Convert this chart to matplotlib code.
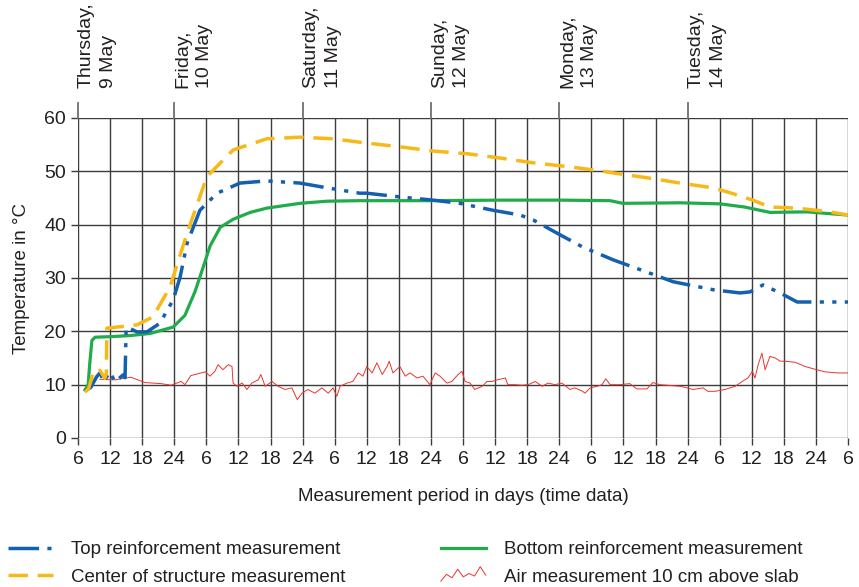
import matplotlib
matplotlib.use("Agg")
import matplotlib.pyplot as plt
import matplotlib.transforms as mtransforms
from matplotlib.lines import Line2D
from matplotlib.legend_handler import HandlerBase
import numpy as np

# hours counted from Thursday 06:00
top_h = [1.3, 2.4, 3.5, 4.2, 4.7, 6.0, 6.9, 8.4, 8.8, 9.0, 9.2, 11.0, 12.9, 15.3, 17.8,
         19.1, 20.4, 22.8, 26.0, 30.3, 35.3, 41.5, 46.6, 52.7, 54.0, 60.2, 66.4, 71.4,
         77.6, 82.7, 85.1, 89.6, 94.4, 100.1, 106.4, 111.3, 118.8, 123.8, 125.7, 128.1,
         131.3, 134.5, 140.6, 144.0]
top_t = [8.8, 9.5, 11.5, 12.3, 10.5, 12.4, 10.5, 11.8, 11.3, 20.6, 20.8, 19.9, 19.9, 21.5,
         25.9, 30.2, 36.5, 42.7, 45.9, 47.8, 48.2, 47.8, 46.9, 45.9, 45.9, 45.2, 44.6, 44.0,
         42.7, 41.8, 40.9, 38.4, 35.8, 33.4, 31.1, 29.3, 27.8, 27.2, 27.4, 28.7,
         27.2, 25.5, 25.5, 25.5]

center_h = [1.3, 2.0, 2.8, 3.5, 4.1, 5.0, 5.3, 5.4, 11.0, 14.0, 17.2, 20.4, 24.1, 29.0,
            35.3, 41.5, 47.7, 54.0, 60.2, 66.4, 72.8, 78.9, 85.1, 91.5, 97.6, 100.1, 106.4,
            112.6, 118.8, 121.9, 126.2, 129.4, 134.5, 140.6, 144.0]
center_t = [8.6, 9.3, 12.2, 12.0, 12.7, 11.2, 12.0, 20.6, 21.2, 22.7, 28.3, 38.4, 49.0, 54.0,
            56.1, 56.4, 56.1, 55.3, 54.6, 53.8, 53.3, 52.5, 51.6, 50.9, 50.1, 49.7, 48.8,
            47.8, 46.9, 46.0, 44.6, 43.3, 43.1, 42.4, 41.8]

bottom_h = [1.3, 1.9, 2.2, 2.6, 3.2, 6.0, 9.7, 13.5, 15.3, 17.8, 20.0, 21.9, 23.4, 24.7,
            26.6, 29.0, 32.2, 35.3, 41.5, 46.6, 52.7, 65.8, 78.9, 90.1, 99.5, 101.9, 112.6,
            120.1, 124.7, 129.4, 136.3, 144.0]
bottom_t = [9.0, 10.0, 14.0, 18.3, 18.9, 19.0, 19.2, 19.6, 20.1, 20.8, 23.0, 27.5, 32.0, 36.0,
            39.5, 41.0, 42.3, 43.1, 44.0, 44.4, 44.5, 44.5, 44.6, 44.6, 44.5, 44.0, 44.1,
            43.9, 43.3, 42.3, 42.4, 41.8]

air_h = [4.1, 6.9, 9.9, 12.5, 15.5, 17.4, 19.3, 20.0, 21.1, 23.8, 24.7, 25.6, 26.2, 27.1,
         28.1, 28.8, 29.0, 29.7, 30.7, 31.6, 32.5, 33.7, 34.2, 35.0, 36.3, 37.4, 38.7, 40.0,
         41.0, 41.9, 43.0, 44.3, 45.6, 46.8, 47.7, 48.4, 49.0, 50.3, 51.4, 52.4, 53.3, 54.0,
         55.0, 55.9, 56.9, 57.8, 58.2, 58.9, 60.2, 61.2, 62.1, 63.4, 64.5, 65.8, 66.8, 67.7,
         69.0, 69.9, 71.1, 71.8, 72.4, 73.3, 74.2, 75.6, 76.5, 77.4, 78.4, 79.9, 80.4, 81.7,
         83.0, 84.2, 85.5, 86.8, 87.9, 89.2, 90.5, 92.0, 92.9, 94.4, 94.8, 95.8, 97.1, 98.0,
         98.7, 99.5, 101.4, 103.2, 104.5, 106.4, 107.5, 108.8, 111.3, 112.6, 113.9, 115.0,
         116.9, 117.8, 119.1, 121.0, 122.9, 124.2, 125.3, 126.1, 126.6, 127.2, 127.9, 128.5,
         129.4, 130.4, 131.3, 132.2, 134.1, 136.0, 137.8, 139.7, 142.1, 144.0]
air_t = [11.0, 10.9, 11.4, 10.4, 10.2, 9.9, 10.6, 10.0, 11.7, 12.4, 11.6, 12.5, 13.75, 12.8,
         13.75, 13.4, 10.3, 9.7, 10.3, 9.1, 10.3, 10.9, 11.9, 9.7, 10.6, 9.7, 9.1, 9.4,
         7.2, 8.4, 9.1, 8.4, 9.4, 8.4, 9.4, 7.8, 9.7, 10.3, 10.6, 12.2, 11.6, 13.4,
         12.2, 14.1, 11.9, 13.4, 14.4, 12.2, 13.4, 11.6, 12.2, 11.25, 11.6, 10.0, 12.2, 11.6,
         10.3, 10.6, 11.9, 12.5, 10.6, 10.3, 9.1, 9.7, 10.6, 10.6, 10.9, 11.25, 10.0, 10.0,
         9.9, 10.0, 10.6, 9.7, 10.3, 10.0, 10.3, 9.1, 9.4, 8.75, 8.4, 9.4, 9.7, 10.0,
         11.1, 10.0, 10.0, 10.2, 9.2, 9.2, 10.4, 10.0, 9.8, 9.7, 9.4, 9.1,
         9.4, 8.75, 8.75, 9.1, 9.7, 10.6, 11.25, 12.5, 11.25, 13.75, 15.9, 12.8,
         15.3, 15.0, 14.4, 14.4, 14.2, 13.4, 12.9, 12.4, 12.2, 12.2]

tick_hours = list(range(0, 145, 6))
tick_labels = ['6', '12', '18', '24'] * 6 + ['6']
day_hours = [0, 18, 42, 66, 90, 114]
day_names = ['Thursday,\n9 May', 'Friday,\n10 May', 'Saturday,\n11 May',
             'Sunday,\n12 May', 'Monday,\n13 May', 'Tuesday,\n14 May']

plt.rcParams['font.family'] = ['Liberation Sans', 'DejaVu Sans']
plt.rcParams['lines.scale_dashes'] = False
txt = '#231f20'
grid_c = '#3c3c3c'
c_top, c_center, c_bottom, c_air = '#1360ae', '#f7b918', '#20ac4b', '#e8352c'
fs = 13


class ZigzagHandler(HandlerBase):
    def create_artists(self, legend, orig_handle, xdescent, ydescent, width, height, fontsize, trans):
        fr = np.array([0.1, 0.5, 0.3, 0.8, 0.35, 0.55, 0.4, 0.95, 0.45])
        xs = np.linspace(0, width, len(fr)) - xdescent
        ys = fr * height * 1.3 - ydescent - 0.1 * height
        return [Line2D(xs, ys, color=orig_handle.get_color(), lw=0.7, transform=trans)]


fig = plt.figure(figsize=(8.59, 5.87), dpi=100)
ax = fig.add_axes([78 / 859, 1 - 438 / 587, 770 / 859, 320 / 587])

ax.set_xlim(0, 144)
ax.set_ylim(0, 60)
ax.set_xticks(tick_hours)
ax.set_xticklabels(tick_labels)
ax.set_yticks(range(0, 61, 10))
for s in ax.spines.values():
    s.set_visible(False)
ax.grid(True, color=grid_c, lw=1.0)
ax.set_axisbelow(True)
ax.tick_params(axis='both', colors=grid_c, labelcolor=txt, labelsize=fs + 1, length=5, width=1)
ax.tick_params(axis='x', pad=4)

# day separators reaching above the plot
trans = mtransforms.blended_transform_factory(ax.transData, ax.transAxes)
for h, name in zip(day_hours, day_names):
    ax.plot([h, h], [1, 1.047], color='#6e6e6e', lw=1.3, transform=trans, clip_on=False)
    ax.text(h, 1.094, name, rotation=90, ha='left', va='bottom', transform=trans,
            fontsize=fs + 1, color=txt, multialignment='left', linespacing=1.4)

air, = ax.plot(air_h, air_t, color=c_air, lw=0.7, zorder=3)
bottom, = ax.plot(bottom_h, bottom_t, color=c_bottom, lw=2.3, zorder=4)
top, = ax.plot(top_h, top_t, color=c_top, lw=2.5, zorder=5,
               linestyle=(0, (22, 6, 3, 6, 3, 6)))
center, = ax.plot(center_h, center_t, color=c_center, lw=2.5, zorder=6,
                  linestyle=(0, (14, 7)))

ax.set_xlabel('Measurement period in days (time data)', fontsize=fs + 0.5, color=txt, labelpad=15)
ax.set_ylabel('Temperature in °C', fontsize=fs + 0.5, color=txt, labelpad=10)

fig.legend([top, center, bottom, air],
           ['Top reinforcement measurement', 'Center of structure measurement',
            'Bottom reinforcement measurement', 'Air measurement 10 cm above slab'],
           ncol=2, loc='upper left', bbox_to_anchor=(8 / 859, 1 - 541 / 587),
           frameon=False, fontsize=fs + 0.5, handlelength=2.4, handletextpad=0.95,
           columnspacing=5.1, labelspacing=0.55, borderpad=0, borderaxespad=0,
           labelcolor=txt, handler_map={air: ZigzagHandler()})

fig.savefig('out.png', dpi=100)
